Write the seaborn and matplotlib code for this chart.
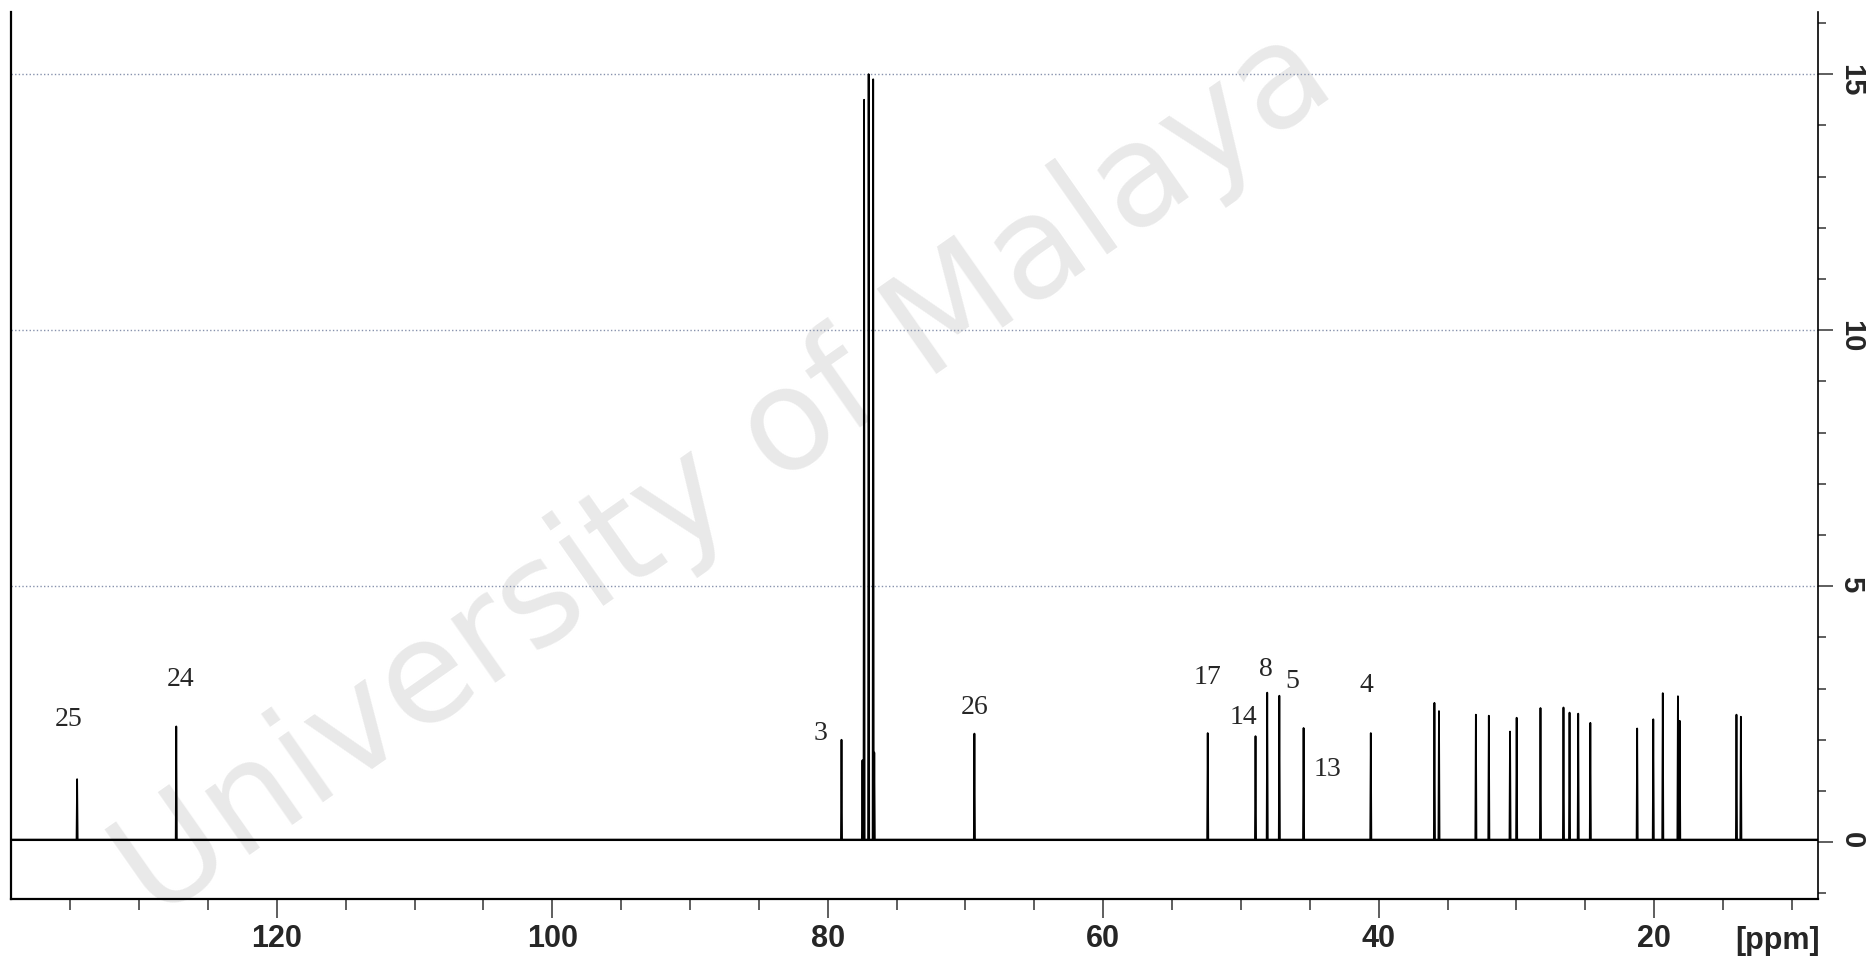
import numpy as np
import pandas as pd
import matplotlib
matplotlib.use("Agg")
import matplotlib.pyplot as plt
import matplotlib.transforms as mtransforms
from matplotlib.ticker import FixedLocator, MultipleLocator
import seaborn as sns

sns.set_style("white")
plt.rcParams["font.family"] = ["Liberation Sans Narrow", "Liberation Sans", "DejaVu Sans"]

# ---- data ----
peak_ppm = [134.5, 127.3, 79.0, 77.48, 77.36, 77.03, 76.70, 76.62, 69.35,
            52.41, 48.94, 48.09, 47.21, 45.45, 40.57, 35.95, 35.62, 32.94,
            32.00, 30.46, 29.98, 28.25, 26.58, 26.14, 25.51, 24.63, 21.23,
            20.06, 19.37, 18.27, 18.14, 14.02, 13.70]
peak_height = [1.23, 2.26, 2.00, 1.60, 14.5, 15.0, 14.9, 1.75, 2.12,
               2.13, 2.07, 2.92, 2.86, 2.23, 2.13, 2.72, 2.56, 2.49,
               2.47, 2.16, 2.43, 2.62, 2.63, 2.53, 2.51, 2.33, 2.22,
               2.40, 2.91, 2.85, 2.37, 2.49, 2.45]
baseline_level = 0.05

label_text = ["25", "24", "3", "26", "17", "14", "8", "5", "13", "4"]
label_ppm = [135.1, 127.0, 80.5, 69.35, 52.4, 49.8, 48.2, 46.3, 43.75, 40.9]
label_y = [2.42, 3.20, 2.15, 2.65, 3.23, 2.46, 3.40, 3.16, 1.43, 3.08]

x_major_ticks = [20, 40, 60, 80, 100, 120]
y_major_ticks = [0, 5, 10, 15]
grid_levels = [5, 10, 15]
x_limits = (139.3, 8.1)
y_limits = (-1.11, 16.22)

# ---- build the spectrum trace from the peak list ----
half_w = 0.04
order = np.argsort(peak_ppm)[::-1]
xs = [x_limits[0]]
ys = [baseline_level]
for i in order:
    p, h = peak_ppm[i], peak_height[i]
    xs += [p + half_w, p, p - half_w]
    ys += [baseline_level, h, baseline_level]
xs.append(x_limits[1])
ys.append(baseline_level)
spec = pd.DataFrame({"ppm": xs, "intensity": ys})

W, H = 1870, 962
fig = plt.figure(figsize=(W / 100, H / 100), dpi=100)
ax = fig.add_axes([11 / W, 62 / H, (1818 - 11) / W, (900 - 12.7) / H])
ax.patch.set_alpha(0)

# watermark
ax.text(0.395, 0.48, "University of Malaya", transform=ax.transAxes,
        rotation=35, rotation_mode="anchor", ha="center", va="center",
        fontsize=102, color="#e9e9e9", zorder=0.5, family="DejaVu Sans")

for g in grid_levels:
    ax.axhline(g, color="#8792ad", lw=1.0, ls=(0, (1, 1.6)), zorder=1)

ax.axhline(baseline_level, color="black", lw=1.5, zorder=2)
sns.lineplot(data=spec, x="ppm", y="intensity", sort=False, estimator=None,
             color="black", lw=1.3, ax=ax, zorder=3)

ax.set_xlim(*x_limits)
ax.set_ylim(*y_limits)
ax.set_xlabel("")
ax.set_ylabel("")

ax.xaxis.set_major_locator(FixedLocator(x_major_ticks))
ax.xaxis.set_minor_locator(MultipleLocator(5))
ax.yaxis.tick_right()
ax.yaxis.set_major_locator(FixedLocator(y_major_ticks))
ax.yaxis.set_minor_locator(MultipleLocator(1))

for s in ["left", "right", "bottom"]:
    ax.spines[s].set_visible(True)
    ax.spines[s].set_color("black")
ax.spines["top"].set_visible(False)
ax.spines["left"].set_linewidth(1.6)
ax.spines["bottom"].set_linewidth(1.6)
ax.spines["right"].set_linewidth(1.2)

ax.tick_params(axis="x", which="major", direction="out", bottom=True,
               length=14, width=1.1, color="#333333", pad=3, labelsize=22)
ax.tick_params(axis="x", which="minor", direction="out", bottom=True,
               length=8, width=1.1, color="#333333")
ax.tick_params(axis="y", which="major", direction="out", right=True, left=False,
               length=11, width=1.1, color="#333333", pad=3, labelsize=21,
               labelrotation=-90)
ax.tick_params(axis="y", which="minor", direction="out", right=True, left=False,
               length=6, width=1.1, color="#333333")
for t in ax.get_xticklabels() + ax.get_yticklabels():
    t.set_fontweight("bold")

for s, p, y in zip(label_text, label_ppm, label_y):
    ax.text(p, y, s, family="Liberation Serif", fontsize=20,
            ha="center", va="center", zorder=4)

trans = mtransforms.blended_transform_factory(ax.transData, ax.transAxes)
ax.text(11.0, -0.046, "[ppm]", transform=trans, ha="center", va="center",
        fontsize=22, fontweight="bold", clip_on=False)

fig.savefig("out.png", dpi=100)
